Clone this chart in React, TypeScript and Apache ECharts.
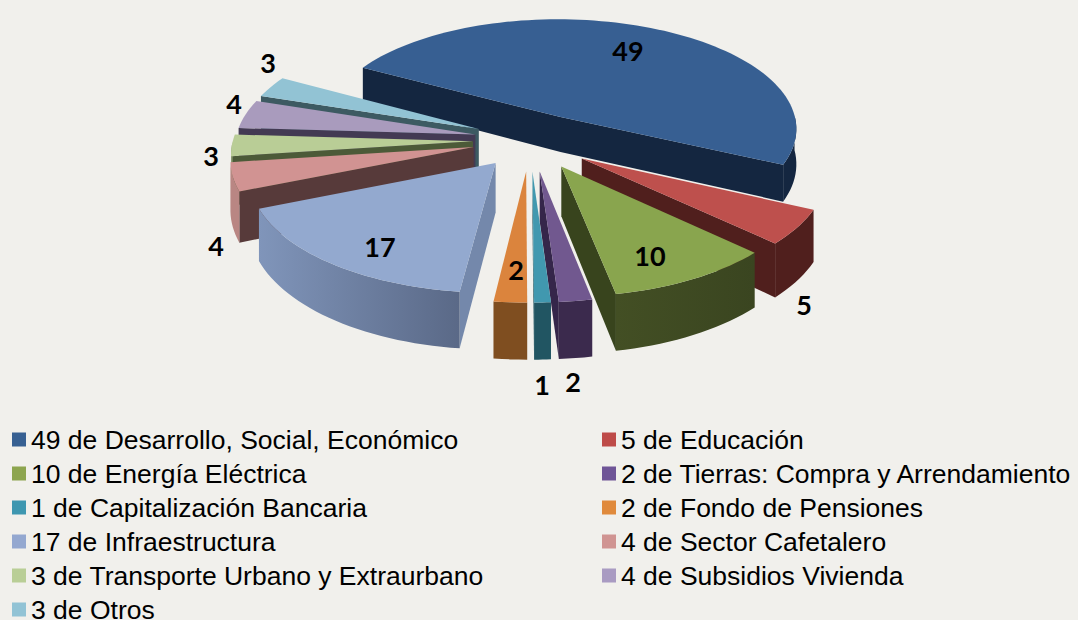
import React, { useEffect, useRef } from "react";
import * as echarts from "echarts";

const categories = [
  "de Desarrollo, Social, Económico",
  "de Educación",
  "de Energía Eléctrica",
  "de Tierras: Compra y Arrendamiento",
  "de Capitalización Bancaria",
  "de Fondo de Pensiones",
  "de Infraestructura",
  "de Sector Cafetalero",
  "de Transporte Urbano y Extraurbano",
  "de Subsidios Vivienda",
  "de Otros",
];
const values = [49, 5, 10, 2, 1, 2, 17, 4, 3, 4, 3];

const topColors = ["#375F92", "#BE504D", "#89A54E", "#71588F", "#4198AF", "#DB843D", "#93A9CF", "#D19392", "#B9CD96", "#A99BBD", "#92C3D4"];
const legendColors = ["#376092", "#BE4B48", "#8DA54F", "#6F5597", "#3E97B0", "#E08A3C", "#94A8D0", "#D09492", "#B9CE96", "#A99BC2", "#92C3D5"];
const sideLeft = ["#142640", "#501F1D", "#3A4520", "#3B2A4D", "#215562", "#7F4E20", "#8095BA", "#B98683", "#8A9A70", "#7F7490", "#6D929F"];
const sideRight = ["#142640", "#501F1D", "#434F24", "#3B2A4D", "#215562", "#7F4E20", "#5A6987", "#B98683", "#8A9A70", "#7F7490", "#6D929F"];
const wallColors = ["#142640", "#501F1D", "#38441D", "#35264A", "#215562", "#7F4E20", "#7488AB", "#573A3A", "#4C5A38", "#433A53", "#3D5A62"];
const sliceZ = [1, 6, 7, 8, 9, 10, 11, 5, 4, 3, 2];
const labelAt = [[628, 50], [804, 304], [650, 255], [573, 381], [542, 384], [516, 269], [380, 246], [216, 245], [211, 155], [234, 103], [268, 62]];
const nudge = [[3, 4], [-2, 1], [0, -1], [2, 0], [1, 0], [1, 0], [7, -2], [8, -1], [9, 0], [10, 0], [9, 1]];

const CX = 529;
const CY = 140;
const K = 0.475;
const RADIUS = 240;
const EXPLODE = 65;
const PERSP = 0.0004;
const START = 298.5;

const total = values.reduce((a, b) => a + b, 0);
const rad = (d: number) => (d * Math.PI) / 180;

function bounds(i: number) {
  let before = 0;
  for (let j = 0; j < i; j++) before += values[j];
  const a = START + (before / total) * 360;
  return [a, a + (values[i] / total) * 360];
}
function project(X: number, Y: number): [number, number] {
  const s = 1 + PERSP * Y;
  return [CX + X * s, CY + K * Y * s];
}
function depth(i: number, Y: number) {
  return i === 0 ? 36 + 0.02 * Y : 48 + 0.03 * Y;
}

function renderSlice(i: number, api: any) {
  const value = api.value(0);
  const [a, b] = bounds(i);
  const mid = (a + b) / 2;
  const ox = EXPLODE * Math.sin(rad(mid));
  const oy = -EXPLODE * Math.cos(rad(mid));
  const ground = (t: number): [number, number] => [ox + RADIUS * Math.sin(rad(t)), oy - RADIUS * Math.cos(rad(t))];
  const top = (p: [number, number]) => {
    const q = project(p[0], p[1]);
    return [q[0] + nudge[i][0], q[1] + nudge[i][1]];
  };
  const bottom = (p: [number, number]) => {
    const q = top(p);
    return [q[0], q[1] + depth(i, p[1])];
  };
  const apex: [number, number] = [ox, oy];
  const steps = Math.max(4, Math.ceil((b - a) / 2));
  const arc: number[] = [];
  for (let n = 0; n <= steps; n++) arc.push(a + ((b - a) * n) / steps);

  const children: any[] = [];
  const startVisible = Math.sin(rad(a)) < 0;
  const endVisible = -Math.cos(rad(b + 90)) > 0;
  const wallPoints: number[][] = [];
  const lowerPoints: number[][] = [];
  if (startVisible) {
    wallPoints.push(top(ground(a)));
    lowerPoints.unshift(bottom(ground(a)));
  }
  wallPoints.push(top(apex));
  lowerPoints.unshift(bottom(apex));
  if (endVisible) {
    wallPoints.push(top(ground(b)));
    lowerPoints.unshift(bottom(ground(b)));
  }
  if (startVisible || endVisible) {
    children.push({
      type: "polygon",
      z2: children.length,
      shape: { points: [...wallPoints, ...lowerPoints] },
      style: { fill: wallColors[i] },
    });
  }

  const front = arc.filter((t) => Math.cos(rad(t)) < 0.02);
  if (front.length > 1) {
    const upper = front.map((t) => top(ground(t)));
    const lower = front.map((t) => bottom(ground(t))).reverse();
    children.push({
      type: "polygon",
      z2: children.length,
      shape: { points: [...upper, ...lower] },
      style: {
        fill: new echarts.graphic.LinearGradient(0, 0, 1, 0, [
          { offset: 0, color: i === 6 ? sideLeft[i] : sideRight[i] },
          { offset: 1, color: i === 6 ? sideRight[i] : sideLeft[i] },
        ]),
      },
    });
  }
  children.push({
    type: "polygon",
    z2: children.length,
    shape: { points: [top(apex), ...arc.map((t) => top(ground(t)))] },
    style: { fill: topColors[i] },
  });
  children.push({
    type: "text",
    z2: 50,
    style: {
      text: String(value),
      x: labelAt[i][0],
      y: labelAt[i][1],
      fill: "#000000",
      font: "bold 27px Lato",
      textAlign: "center",
      textVerticalAlign: "middle",
    },
  });
  return { type: "group", children };
}

const seriesNames = categories.map((c, i) => `${values[i]} ${c}`);

export default function App() {
  const ref = useRef<HTMLDivElement>(null);
  useEffect(() => {
    document.body.style.margin = "0";
    const chart = echarts.init(ref.current!, undefined, { renderer: "svg" });
    const legendBase = {
      orient: "vertical" as const,
      top: 426,
      height: 230,
      itemWidth: 14,
      itemHeight: 14,
      itemGap: 7,
      icon: "rect",
      selectedMode: false,
      padding: 0,
      textStyle: { fontFamily: "Liberation Sans", fontSize: 26.5, color: "#000000" },
    };
    chart.setOption({
      animation: false,
      backgroundColor: "#F1F0EC",
      legend: [
        { ...legendBase, left: 12, data: seriesNames.filter((_, i) => i % 2 === 0) },
        { ...legendBase, left: 602, data: seriesNames.filter((_, i) => i % 2 === 1) },
      ],
      series: values.map((v, i) => ({
        type: "custom",
        name: seriesNames[i],
        coordinateSystem: "none",
        silent: true,
        z: sliceZ[i],
        itemStyle: { color: legendColors[i] },
        data: [[v]],
        renderItem: (_: any, api: any) => renderSlice(i, api),
      })),
    });
    return () => chart.dispose();
  }, []);
  return <div ref={ref} style={{ width: 1078, height: 620, overflow: "hidden" }} />;
}
